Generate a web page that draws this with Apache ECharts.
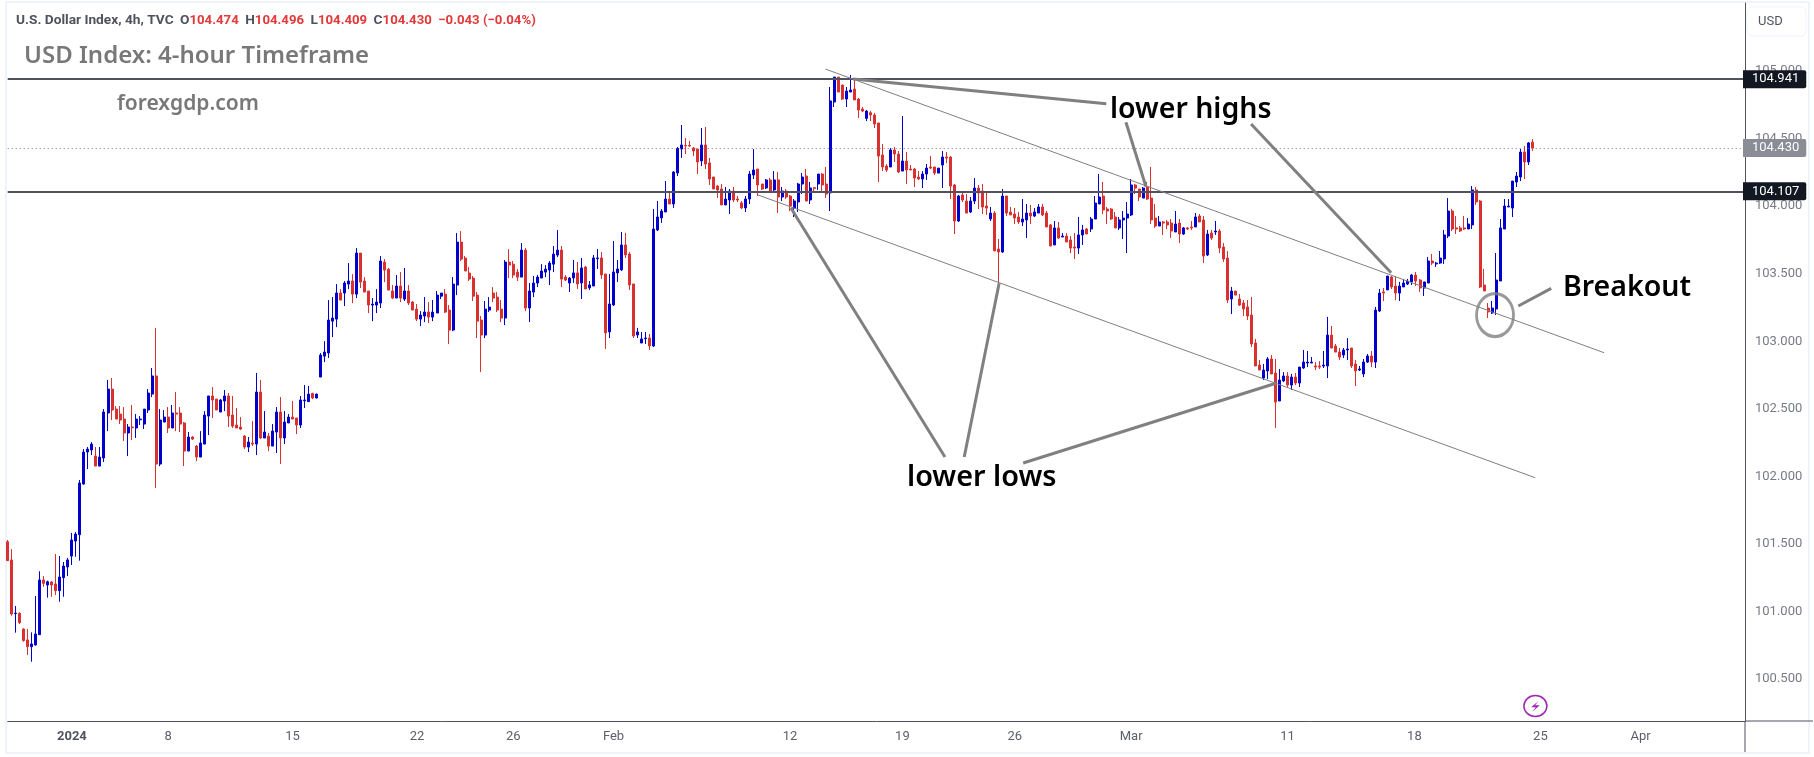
<!DOCTYPE html>
<html>
<head>
<meta charset="utf-8">
<title>USD Index</title>
<script src="https://cdn.jsdelivr.net/npm/echarts@6/dist/echarts.min.js"></script>
<style>
    html, body { margin: 0; padding: 0; background: #fff; }
    #main { width: 1814px; height: 757px; }
</style>
</head>
<body>
<div id="main"></div>
<script>
// 4h candles
var opens = [
    101.516,101.381,100.984,100.986,100.870,100.789,100.739,100.752,100.828,101.233,
    101.196,101.218,101.203,101.154,101.250,101.329,101.410,101.521,101.568,101.943,
    102.180,102.195,102.150,102.076,102.136,102.469,102.646,102.498,102.461,102.424,
    102.321,102.365,102.358,102.419,102.387,102.491,102.609,102.743,102.091,102.402,
    102.439,102.358,102.469,102.469,102.395,102.187,102.291,102.224,102.143,102.239,
    102.446,102.595,102.572,102.476,102.558,102.595,102.454,102.380,102.365,102.298,
    102.217,102.247,102.239,102.624,102.284,102.298,102.224,102.328,102.476,102.284,
    102.395,102.439,102.432,102.380,102.560,102.553,102.614,102.580,102.735,102.890,
    102.913,103.149,103.164,103.357,103.357,103.423,103.446,103.349,103.653,103.446,
    103.372,103.268,103.268,103.283,103.586,103.534,103.372,103.320,103.409,103.312,
    103.372,103.290,103.238,103.164,103.187,103.216,103.179,103.209,103.334,103.349,
    103.231,103.083,103.416,103.734,103.616,103.505,103.468,103.342,103.157,103.046,
    103.231,103.357,103.327,103.238,103.172,103.586,103.571,103.512,103.475,103.675,
    103.246,103.364,103.431,103.468,103.512,103.527,103.571,103.638,103.675,103.475,
    103.431,103.469,103.506,103.432,103.550,103.395,103.409,103.612,103.617,103.498,
    103.069,103.269,103.506,103.528,103.713,103.646,103.424,103.047,102.987,103.019,
    103.024,102.965,103.824,103.913,103.957,104.053,104.016,104.246,104.423,104.450,
    104.450,104.431,104.423,104.335,104.453,104.320,104.216,104.149,104.127,104.009,
    104.046,104.112,104.053,104.024,103.987,104.053,104.231,104.275,104.164,104.135,
    104.194,104.120,104.194,104.068,104.112,104.075,103.987,104.031,104.164,104.223,
    104.046,104.137,104.164,104.238,104.164,104.098,104.771,104.956,104.897,104.793,
    104.845,104.867,104.793,104.719,104.650,104.692,104.675,104.616,104.379,104.297,
    104.290,104.416,104.386,104.260,104.334,104.275,104.275,104.216,104.201,104.238,
    104.290,104.290,104.245,104.305,104.364,104.364,104.157,103.890,104.083,104.038,
    103.957,104.038,104.134,104.112,104.001,103.905,103.949,103.683,103.661,104.075,
    103.957,103.942,103.920,103.883,103.898,103.949,103.927,103.949,103.994,103.949,
    103.861,103.713,103.839,103.772,103.779,103.750,103.698,103.690,103.787,103.831,
    103.831,103.905,104.016,104.075,103.979,103.979,103.920,103.839,103.898,103.912,
    103.935,104.157,104.127,104.060,104.142,104.060,103.912,103.853,103.883,103.883,
    103.875,103.809,103.875,103.794,103.839,103.846,103.846,103.927,103.898,103.639,
    103.801,103.809,103.816,103.698,103.616,103.313,103.372,103.313,103.283,103.254,
    103.194,102.987,102.824,102.728,102.780,102.869,102.765,102.558,102.706,102.743,
    102.676,102.735,102.691,102.802,102.839,102.839,102.817,102.817,102.817,102.817,
    103.046,102.965,102.920,102.898,102.935,102.950,102.832,102.787,102.758,102.846,
    102.891,102.846,103.224,103.365,103.380,103.476,103.409,103.357,103.402,103.424,
    103.439,103.490,103.453,103.394,103.431,103.594,103.572,103.579,103.609,103.779,
    103.964,103.839,103.839,103.839,103.831,103.861,104.120,104.038,103.416,103.246,
    103.209,103.239,103.446,103.831,103.994,103.986,104.179,104.216,104.401,104.327,104.474
];
var closes = [
    101.376,100.981,100.988,100.917,100.784,100.739,100.759,100.833,101.233,101.208,
    101.220,101.196,101.154,101.255,101.336,101.381,101.529,101.573,101.951,102.180,
    102.202,102.239,102.076,102.143,102.476,102.646,102.491,102.424,102.417,102.321,
    102.365,102.360,102.424,102.424,102.498,102.617,102.743,102.091,102.417,102.439,
    102.358,102.469,102.461,102.387,102.187,102.291,102.276,102.143,102.247,102.454,
    102.595,102.565,102.491,102.565,102.595,102.446,102.372,102.358,102.350,102.217,
    102.254,102.239,102.624,102.284,102.328,102.224,102.335,102.476,102.284,102.402,
    102.439,102.424,102.380,102.565,102.565,102.609,102.580,102.609,102.898,102.920,
    103.157,103.172,103.357,103.305,103.431,103.446,103.349,103.653,103.438,103.364,
    103.268,103.275,103.290,103.594,103.527,103.379,103.320,103.409,103.320,103.372,
    103.283,103.231,103.164,103.194,103.216,103.179,103.216,103.342,103.357,103.216,
    103.083,103.423,103.734,103.608,103.520,103.460,103.334,103.149,103.046,103.238,
    103.253,103.320,103.231,103.172,103.586,103.564,103.490,103.475,103.675,103.246,
    103.372,103.431,103.475,103.520,103.534,103.579,103.645,103.675,103.460,103.453,
    103.468,103.506,103.424,103.543,103.387,103.417,103.617,103.617,103.491,103.062,
    103.276,103.513,103.535,103.713,103.639,103.417,103.039,103.069,103.017,103.024,
    102.965,103.831,103.920,103.964,104.053,104.016,104.253,104.428,104.453,104.445,
    104.445,104.408,104.327,104.453,104.312,104.201,104.127,104.120,104.009,104.053,
    104.112,104.046,104.046,103.987,104.053,104.238,104.268,104.157,104.127,104.194,
    104.105,104.194,104.068,104.112,104.068,104.001,104.038,104.164,104.216,104.038,
    104.135,104.130,104.238,104.157,104.090,104.779,104.956,104.845,104.793,104.852,
    104.860,104.786,104.712,104.704,104.704,104.675,104.608,104.371,104.290,104.268,
    104.416,104.386,104.253,104.334,104.268,104.268,104.208,104.201,104.238,104.282,
    104.282,104.245,104.282,104.364,104.356,104.149,103.890,104.075,104.046,103.949,
    104.038,104.134,104.097,103.994,103.986,103.949,103.669,103.661,104.075,103.949,
    103.935,103.912,103.883,103.905,103.949,103.927,103.957,103.994,103.935,103.846,
    103.705,103.839,103.764,103.779,103.735,103.690,103.690,103.787,103.824,103.794,
    103.905,104.023,104.068,103.972,103.964,103.905,103.839,103.898,103.912,103.942,
    104.157,104.134,104.068,104.134,104.053,103.898,103.853,103.883,103.875,103.861,
    103.816,103.868,103.794,103.839,103.831,103.839,103.920,103.883,103.631,103.794,
    103.764,103.816,103.690,103.609,103.305,103.372,103.342,103.268,103.239,103.187,
    102.980,102.817,102.787,102.787,102.869,102.758,102.550,102.713,102.743,102.676,
    102.735,102.691,102.809,102.846,102.846,102.846,102.809,102.809,102.824,103.046,
    102.950,102.920,102.883,102.935,102.943,102.817,102.780,102.795,102.846,102.891,
    102.846,103.231,103.357,103.357,103.483,103.402,103.357,103.409,103.431,103.446,
    103.490,103.446,103.394,103.439,103.594,103.579,103.579,103.616,103.787,103.964,
    103.831,103.831,103.816,103.831,103.868,104.120,104.031,103.402,103.372,103.217,
    103.246,103.453,103.839,104.001,104.001,104.186,104.223,104.401,104.327,104.468,104.430
];
var lows = [
    101.376,100.969,100.843,100.907,100.776,100.678,100.628,100.747,100.828,101.183,
    101.102,101.109,101.122,101.072,101.109,101.262,101.344,101.405,101.376,101.938,
    102.054,102.158,102.076,102.076,102.106,102.335,102.417,102.424,102.387,102.262,
    102.150,102.269,102.284,102.380,102.350,102.469,102.587,101.914,102.076,102.402,
    102.321,102.358,102.335,102.328,102.076,102.187,102.269,102.113,102.143,102.239,
    102.306,102.432,102.491,102.476,102.483,102.365,102.358,102.358,102.343,102.202,
    102.180,102.224,102.158,102.276,102.284,102.187,102.224,102.173,102.091,102.239,
    102.395,102.424,102.313,102.358,102.506,102.550,102.572,102.577,102.735,102.846,
    102.876,103.031,103.105,103.305,103.261,103.386,103.283,103.320,103.394,103.364,
    103.209,103.149,103.209,103.246,103.438,103.379,103.312,103.320,103.290,103.298,
    103.268,103.231,103.149,103.112,103.142,103.135,103.149,103.209,103.312,103.209,
    102.979,103.075,103.342,103.594,103.520,103.446,103.298,103.024,102.772,103.024,
    103.216,103.290,103.216,103.142,103.120,103.468,103.468,103.446,103.475,103.223,
    103.142,103.327,103.401,103.468,103.475,103.416,103.512,103.623,103.401,103.446,
    103.364,103.432,103.387,103.313,103.387,103.380,103.409,103.535,103.461,102.943,
    103.024,103.261,103.439,103.520,103.617,103.380,103.024,103.024,102.987,102.980,
    102.936,102.958,103.816,103.876,103.957,104.016,103.987,104.223,104.357,104.386,
    104.438,104.371,104.238,104.297,104.275,104.157,104.127,104.061,104.009,104.009,
    103.942,104.031,104.031,103.979,103.957,104.016,104.201,104.075,104.120,104.127,
    104.098,104.098,103.950,104.038,104.053,103.964,103.920,103.957,104.090,104.038,
    104.016,104.105,104.120,104.105,104.061,103.964,104.734,104.845,104.786,104.734,
    104.845,104.786,104.653,104.697,104.630,104.630,104.579,104.179,104.260,104.253,
    104.290,104.327,104.245,104.260,104.164,104.268,104.142,104.194,104.134,104.194,
    104.275,104.231,104.245,104.134,104.319,104.053,103.794,103.883,104.031,103.949,
    103.949,104.016,103.979,103.942,103.935,103.890,103.669,103.431,103.654,103.927,
    103.935,103.868,103.868,103.853,103.764,103.868,103.920,103.949,103.927,103.846,
    103.705,103.713,103.757,103.772,103.735,103.653,103.609,103.646,103.713,103.794,
    103.809,103.905,104.016,103.942,103.868,103.898,103.839,103.824,103.757,103.653,
    103.927,104.090,104.038,104.060,104.046,103.868,103.839,103.853,103.787,103.831,
    103.764,103.809,103.727,103.787,103.824,103.824,103.846,103.883,103.579,103.631,
    103.750,103.787,103.653,103.587,103.283,103.202,103.342,103.261,103.187,103.157,
    102.957,102.817,102.787,102.713,102.720,102.758,102.358,102.558,102.698,102.654,
    102.639,102.676,102.661,102.795,102.809,102.839,102.787,102.795,102.802,102.728,
    102.950,102.920,102.861,102.876,102.861,102.802,102.669,102.780,102.735,102.839,
    102.809,102.802,103.217,103.298,103.380,103.387,103.305,103.298,103.402,103.416,
    103.416,103.409,103.365,103.335,103.431,103.565,103.550,103.572,103.572,103.764,
    103.816,103.794,103.809,103.824,103.831,103.831,104.009,103.394,103.372,103.172,
    103.202,103.194,103.446,103.831,103.994,103.920,104.142,104.186,104.201,104.305,104.409
];
var highs = [
    101.529,101.462,101.040,100.993,100.875,100.870,100.845,101.114,101.297,101.262,
    101.228,101.225,101.425,101.410,101.366,101.396,101.581,101.588,101.973,102.202,
    102.217,102.254,102.217,102.217,102.498,102.713,102.728,102.520,102.520,102.513,
    102.387,102.528,102.461,102.446,102.498,102.646,102.802,103.098,102.498,102.491,
    102.513,102.528,102.624,102.513,102.402,102.328,102.298,102.232,102.335,102.483,
    102.595,102.661,102.572,102.572,102.639,102.617,102.595,102.506,102.439,102.306,
    102.291,102.409,102.765,102.713,102.483,102.321,102.387,102.513,102.587,102.483,
    102.461,102.558,102.432,102.595,102.676,102.669,102.619,102.612,102.913,103.001,
    103.305,103.327,103.423,103.386,103.446,103.579,103.497,103.690,103.653,103.475,
    103.372,103.320,103.386,103.631,103.608,103.542,103.416,103.490,103.512,103.542,
    103.416,103.298,103.275,103.223,103.327,103.290,103.305,103.372,103.357,103.386,
    103.268,103.475,103.801,103.816,103.631,103.549,103.483,103.364,103.187,103.298,
    103.327,103.401,103.364,103.305,103.601,103.682,103.594,103.534,103.727,103.690,
    103.431,103.483,103.490,103.571,103.564,103.594,103.705,103.823,103.705,103.490,
    103.475,103.602,103.587,103.617,103.557,103.446,103.639,103.683,103.661,103.498,
    103.498,103.742,103.602,103.809,103.802,103.661,103.424,103.099,103.069,103.069,
    103.054,103.979,104.038,103.979,104.186,104.105,104.260,104.438,104.601,104.505,
    104.483,104.438,104.423,104.579,104.586,104.357,104.216,104.157,104.164,104.142,
    104.127,104.142,104.075,104.038,104.075,104.260,104.423,104.275,104.164,104.201,
    104.209,104.260,104.253,104.142,104.127,104.083,104.053,104.172,104.246,104.275,
    104.179,104.142,104.238,104.246,104.290,104.882,104.956,104.956,104.897,104.882,
    104.971,104.949,104.801,104.734,104.712,104.706,104.690,104.616,104.460,104.312,
    104.430,104.438,104.408,104.667,104.401,104.305,104.282,104.260,104.260,104.312,
    104.371,104.290,104.282,104.408,104.401,104.371,104.164,104.083,104.097,104.090,
    104.068,104.208,104.157,104.164,104.105,103.994,103.964,103.757,104.127,104.075,
    103.994,103.986,103.957,104.053,104.016,104.009,103.986,104.016,104.016,103.964,
    103.868,103.890,103.883,103.801,103.801,103.779,103.801,103.920,103.861,103.839,
    103.920,104.075,104.238,104.179,103.994,103.986,103.957,103.920,103.964,104.031,
    104.201,104.164,104.127,104.142,104.179,104.290,104.016,103.927,103.890,103.898,
    103.905,103.964,103.905,103.846,103.846,103.890,103.949,103.942,103.927,103.824,
    103.824,103.890,103.831,103.727,103.668,103.402,103.372,103.350,103.305,103.305,
    103.328,103.017,102.861,102.832,102.883,102.898,102.869,102.794,102.772,102.772,
    102.758,102.765,102.809,102.935,102.928,102.883,102.846,102.854,102.928,103.180,
    103.113,102.980,102.950,102.950,103.024,102.950,102.861,102.817,102.869,102.906,
    102.928,103.254,103.387,103.394,103.483,103.483,103.483,103.439,103.461,103.461,
    103.498,103.513,103.461,103.439,103.624,103.646,103.587,103.668,103.824,104.060,
    103.979,103.927,103.853,103.927,103.912,104.149,104.142,104.046,103.535,103.283,
    103.298,103.653,103.905,104.053,104.053,104.186,104.253,104.423,104.445,104.475,104.496
];

// axis ticks
var priceTicks = [100.5, 101, 101.5, 102, 102.5, 103, 103.5, 104, 104.5, 105];
var dateTickSlots = [16, 40, 71, 102, 126, 151, 195, 223, 251, 280, 319, 350.6, 382, 407];
var dateTickLabels = ['2024', '8', '15', '22', '26', 'Feb', '12', '19', '26', 'Mar', '11', '18', '25', 'Apr'];
var slotCount = 434;

// price levels
var supportLevels = [104.941, 104.107];
var lastPrice = 104.430;

// drawings, [slot, price]
var channelLines = [
    [[203.8, 105.015], [397.9, 102.915]],
    [[187.0, 104.083], [380.7, 101.990]]
];
var pointerLines = [
    [[210.7, 104.941], [273.8, 104.758]],
    [[278.7, 104.621], [283.7, 104.144]],
    [[309.9, 104.608], [344.8, 103.507]],
    [[195.2, 103.986], [233.6, 102.143]],
    [[247.1, 103.429], [238.4, 102.143]],
    [[316.1, 102.689], [253.1, 102.099]],
    [[376.5, 103.261], [384.7, 103.392]]
];
var breakoutPoint = [370.7, 103.194];

var categories = [];
for (var i = 0; i < slotCount; i++) {
    categories.push(i);
}
var candles = opens.map(function (o, i) {
    return [o, closes[i], lows[i], highs[i]];
});

function levelLine(value, color, type, width, tagColor) {
    return {
        yAxis: value,
        lineStyle: { color: color, type: type, width: width },
        label: {
            show: true,
            position: 'end',
            distance: -2,
            formatter: value.toFixed(3),
            color: '#fff',
            fontFamily: 'Roboto',
            fontSize: 13,
            backgroundColor: tagColor,
            padding: [3, 7, 2, 9],
            borderRadius: [0, 2, 2, 0]
        }
    };
}

function drawingSeries(lines, width) {
    return lines.map(function (line) {
        return {
            type: 'line',
            xAxisIndex: 1,
            yAxisIndex: 0,
            data: line,
            symbol: 'none',
            silent: true,
            z: 6,
            lineStyle: { color: '#808080', width: width }
        };
    });
}

function freeText(text, left, top, size, weight, color) {
    return {
        text: text,
        left: left,
        top: top,
        padding: 0,
        textStyle: { fontFamily: 'Noto Sans', fontSize: size, fontWeight: weight, color: color }
    };
}

var myChart = echarts.init(document.getElementById('main'));
myChart.setOption({
    animation: false,
    backgroundColor: '#fff',
    title: [
        {
            text: '{d|U.S. Dollar Index, 4h, TVC}  {d|O}{r|104.474}  {d|H}{r|104.496}  {d|L}{r|104.409}  {d|C}{r|104.430}  {r|\u22120.043 (\u22120.04%)}',
            left: 16,
            top: 14,
            padding: 0,
            textStyle: {
                fontSize: 13,
                fontFamily: 'Roboto',
                rich: {
                    d: { color: '#50535e', fontFamily: 'Roboto', fontSize: 13.7 },
                    r: { color: '#e03a3a', fontFamily: 'Roboto', fontSize: 13.2 }
                }
            }
        },
        freeText('USD Index: 4-hour Timeframe', 24, 44, 24, 600, '#787878'),
        freeText('forexgdp.com', 117, 94, 21, 600, '#787878'),
        freeText('lower highs', 1110, 95, 28.5, 600, '#000'),
        freeText('lower lows', 907, 463, 28.8, 600, '#000'),
        freeText('Breakout', 1563, 273, 28.5, 600, '#000'),
        { text: 'USD', left: 1758, top: 15, padding: 0, textStyle: { fontFamily: 'Roboto', fontSize: 13, fontWeight: 400, color: '#50535e' } }
    ],
    grid: { left: 7.7, top: 3, width: 1737.3, height: 718 },
    xAxis: [
        {
            type: 'category',
            data: categories,
            boundaryGap: false,
            show: false
        },
        {
            type: 'value',
            min: 0,
            max: slotCount - 1,
            position: 'bottom',
            splitLine: { show: false },
            axisTick: { show: false },
            axisLine: { show: true, onZero: false, lineStyle: { color: '#50535e', width: 1 } },
            axisLabel: {
                customValues: dateTickSlots,
                margin: 9,
                color: '#5d606b',
                fontFamily: 'Roboto',
                fontSize: 13,
                formatter: function (value) {
                    var label = dateTickLabels[dateTickSlots.indexOf(value)];
                    return label === '2024' ? '{b|2024}' : label;
                },
                rich: {
                    b: { fontFamily: 'Roboto', fontSize: 13, fontWeight: 'bold', color: '#50535e' }
                }
            }
        }
    ],
    yAxis: {
        type: 'value',
        position: 'right',
        min: 100.189,
        max: 105.504,
        splitLine: { show: false },
        axisTick: { show: false },
        axisLine: { show: true, onZero: false, lineStyle: { color: '#50535e', width: 1 } },
        axisLabel: {
            customValues: priceTicks,
            margin: 10,
            color: '#787b86',
            fontFamily: 'Roboto',
            fontSize: 13,
            formatter: function (value) {
                return value.toFixed(3);
            }
        }
    },
    series: [
        {
            type: 'candlestick',
            data: candles,
            barWidth: 2.5,
            silent: true,
            z: 3,
            itemStyle: {
                color: '#0000cc',
                color0: '#d93030',
                borderColor: '#0000cc',
                borderColor0: '#d93030',
                borderWidth: 1
            },
            markLine: {
                silent: true,
                symbol: 'none',
                animation: false,
                z: 5,
                data: [
                    levelLine(supportLevels[0], '#50535e', 'solid', 2, '#131722'),
                    levelLine(supportLevels[1], '#50535e', 'solid', 2, '#131722'),
                    levelLine(lastPrice, '#787b86', [1, 3], 1, '#8a8c96')
                ]
            }
        },
        {
            type: 'scatter',
            xAxisIndex: 1,
            yAxisIndex: 0,
            data: [breakoutPoint],
            symbol: 'circle',
            symbolSize: [37, 43],
            silent: true,
            z: 6,
            itemStyle: { color: 'rgba(0,0,0,0)', borderColor: '#808080', borderWidth: 3 }
        }
    ].concat(drawingSeries(channelLines, 1), drawingSeries(pointerLines, 3)),
    graphic: [
        { type: 'rect', silent: true, z: 0, shape: { x: 6, y: 2, width: 1803, height: 751 }, style: { fill: null, stroke: '#f0f3fa', lineWidth: 2 } },
        { type: 'rect', silent: true, shape: { x: 1747, y: 7, width: 59, height: 29, r: 5 }, style: { fill: null, stroke: '#f0f3fa', lineWidth: 1 } },
        { type: 'line', silent: true, shape: { x1: 1745, y1: 721, x2: 1745, y2: 752 }, style: { stroke: '#50535e', lineWidth: 1 } },
        { type: 'line', silent: true, shape: { x1: 1745, y1: 721, x2: 1813, y2: 721 }, style: { stroke: '#50535e', lineWidth: 1 } },
        { type: 'ellipse', silent: true, shape: { cx: 1535.4, cy: 706, rx: 11.5, ry: 10.5 }, style: { fill: null, stroke: '#9c27b0', lineWidth: 1.5 } },
        { type: 'polygon', silent: true, shape: { points: [[1538.2, 701.3], [1531.1, 707.3], [1535.8, 707.3], [1532.3, 711.7], [1539.8, 705.3], [1535.1, 705.3]] }, style: { fill: '#9c27b0' } }
    ]
});
</script>
</body>
</html>
